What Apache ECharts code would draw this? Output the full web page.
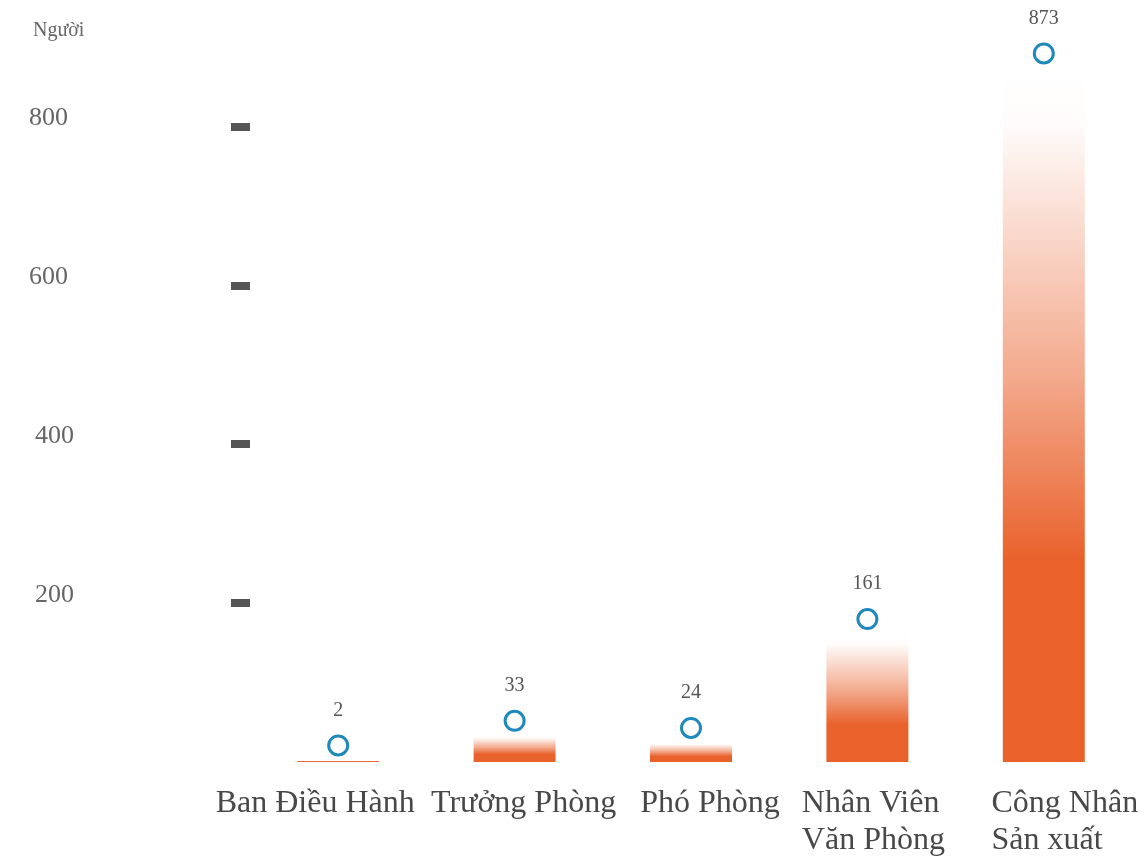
<!DOCTYPE html>
<html>
<head>
<meta charset="utf-8">
<title>Người</title>
<script src="https://cdn.jsdelivr.net/npm/echarts@6/dist/echarts.min.js"></script>
<style>
  html, body { margin: 0; padding: 0; background: #ffffff; }
  #chart { width: 1145px; height: 857px; }
</style>
</head>
<body>
<div id="chart"></div>
<script>
// Headcount by position
const categories = ['Ban Điều Hành', 'Trưởng Phòng', 'Phó Phòng', 'Nhân Viên\nVăn Phòng', 'Công Nhân\nSản xuất'];
const headcount = [2, 33, 24, 161, 873];
const yTicks = [200, 400, 600, 800];
const unitLabel = 'Người';

// Horizontal nudge (px) of each category label so long names don't collide
const labelNudge = [-23, 9, 19, 6, 21];

const SERIF = "'Liberation Serif', 'DejaVu Serif', serif";
const ORANGE = '#e9612b';
const BLUE = '#1f88bd';
const TEXT = '#484848';

const chart = echarts.init(document.getElementById('chart'), null, { renderer: 'canvas' });

const categoryItems = categories.map((name, i) => {
  const s = labelNudge[i];
  return {
    value: name,
    textStyle: { padding: s < 0 ? [0, -2 * s, 0, 0] : [0, 0, 0, 2 * s] }
  };
});

chart.setOption({
  backgroundColor: '#ffffff',
  animation: false,
  title: {
    text: unitLabel,
    left: 28,
    top: 16,
    textStyle: { fontFamily: SERIF, fontSize: 20, fontWeight: 'normal', color: '#666' }
  },
  grid: { left: 250, right: 13, top: 47, bottom: 95, containLabel: false },
  xAxis: {
    type: 'category',
    data: categoryItems,
    axisLine: { show: false },
    axisTick: { show: false },
    axisLabel: {
      interval: 0,
      margin: 23,
      color: TEXT,
      fontFamily: SERIF,
      fontSize: 32,
      formatter: v => v.split('\n').map(l => '{l|' + l + '}').join('\n'),
      rich: {
        l: { align: 'left', fontFamily: SERIF, fontSize: 32, lineHeight: 37, color: TEXT }
      }
    }
  },
  yAxis: {
    type: 'value',
    min: 0,
    max: 900,
    splitLine: { show: false },
    axisLine: { show: false },
    axisTick: {
      show: true,
      customValues: yTicks,
      length: 19,
      lineStyle: { color: '#555', width: 8 }
    },
    axisLabel: {
      customValues: yTicks,
      margin: 176,
      formatter: v => (v >= 600 ? '{h|' + v + '}' : '{n|' + v + '}'),
      rich: {
        h: { fontFamily: SERIF, fontSize: 26, color: '#666', padding: [0, 6, 16, 0] },
        n: { fontFamily: SERIF, fontSize: 26, color: '#666', padding: [0, 0, 16, 0] }
      }
    }
  },
  series: [
    {
      type: 'bar',
      data: headcount,
      barWidth: 82,
      itemStyle: {
        color: {
          type: 'linear', x: 0, y: 0, x2: 0, y2: 1,
          colorStops: [
            { offset: 0, color: 'rgba(233,97,43,0)' },
            { offset: 0.08, color: 'rgba(233,97,43,0.02)' },
            { offset: 0.45, color: 'rgba(233,97,43,0.55)' },
            { offset: 0.71, color: ORANGE },
            { offset: 1, color: ORANGE }
          ]
        }
      },
      z: 1
    },
    {
      type: 'scatter',
      data: headcount,
      symbol: 'circle',
      symbolSize: 19,
      symbolOffset: [0, -15],
      itemStyle: { color: '#ffffff', borderColor: BLUE, borderWidth: 3, opacity: 1 },
      label: {
        show: true,
        position: 'top',
        distance: 14,
        fontFamily: SERIF,
        fontSize: 20,
        color: '#555'
      },
      z: 3
    }
  ]
});
</script>
</body>
</html>
